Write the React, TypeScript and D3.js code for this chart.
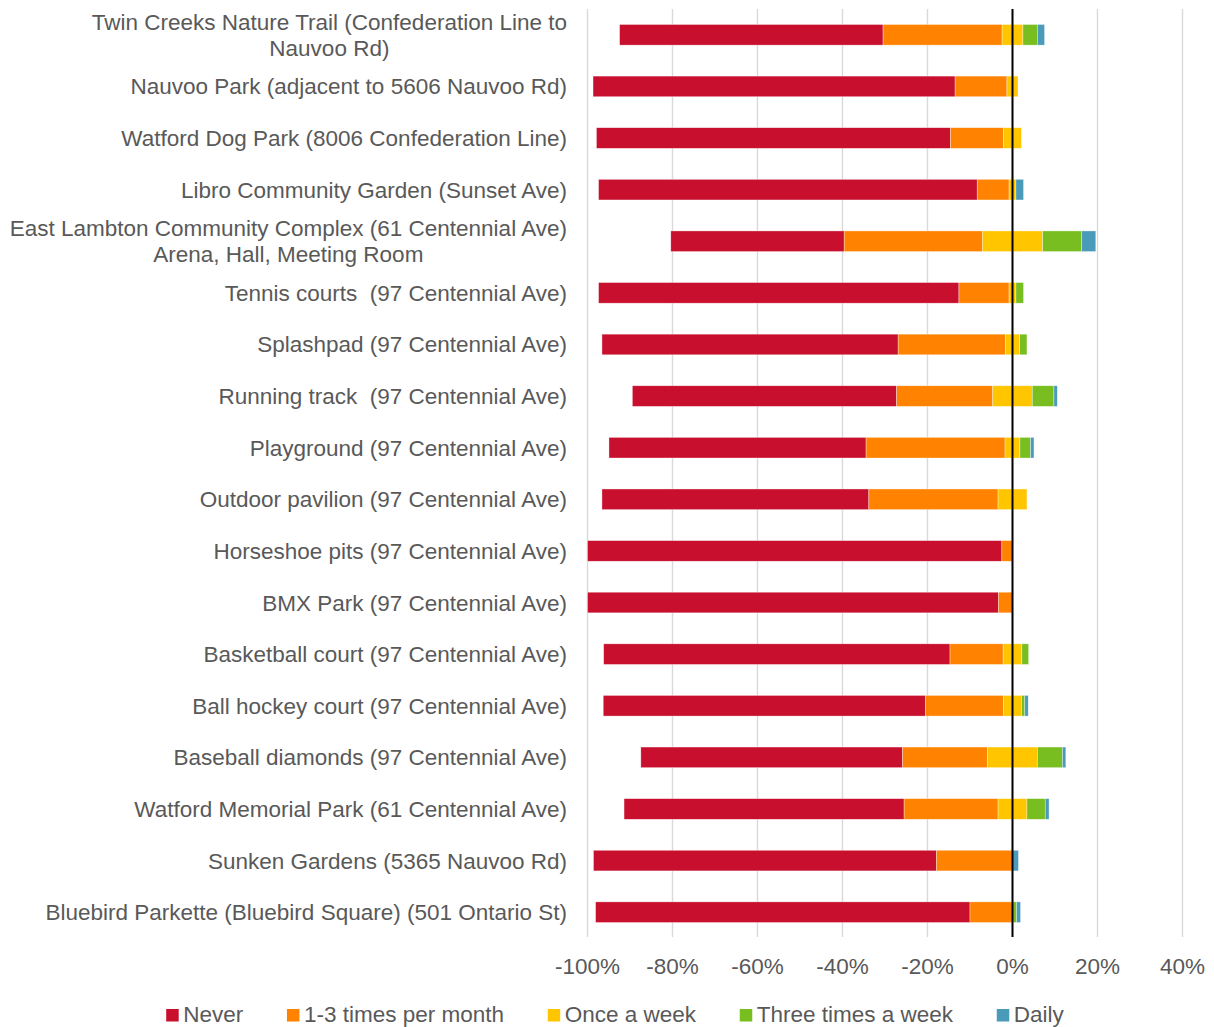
import React, { useRef, useEffect } from "react";
import * as d3 from "d3";

// facilities, top to bottom ("\n" = line break in the axis label)
const categories = [
  "Twin Creeks Nature Trail (Confederation Line to\nNauvoo Rd)",
  "Nauvoo Park (adjacent to 5606 Nauvoo Rd)",
  "Watford Dog Park (8006 Confederation Line)",
  "Libro Community Garden (Sunset Ave)",
  "East Lambton Community Complex (61 Centennial Ave)\nArena, Hall, Meeting Room",
  "Tennis courts  (97 Centennial Ave)",
  "Splashpad (97 Centennial Ave)",
  "Running track  (97 Centennial Ave)",
  "Playground (97 Centennial Ave)",
  "Outdoor pavilion (97 Centennial Ave)",
  "Horseshoe pits (97 Centennial Ave)",
  "BMX Park (97 Centennial Ave)",
  "Basketball court (97 Centennial Ave)",
  "Ball hockey court (97 Centennial Ave)",
  "Baseball diamonds (97 Centennial Ave)",
  "Watford Memorial Park (61 Centennial Ave)",
  "Sunken Gardens (5365 Nauvoo Rd)",
  "Bluebird Parkette (Bluebird Square) (501 Ontario St)",
];

// % of respondents
const never = [62.0, 85.2, 83.3, 89.1, 40.8, 84.8, 69.7, 62.2, 60.5, 62.8, 97.5, 96.7, 81.5, 75.8, 61.6, 65.9, 80.7, 88.1];
const monthly = [28.0, 12.2, 12.5, 7.5, 32.5, 11.8, 25.2, 22.6, 32.7, 30.4, 2.5, 3.3, 12.5, 18.4, 20.0, 22.1, 17.9, 10.0];
const weekly = [4.9, 2.6, 4.2, 1.6, 14.2, 1.6, 3.4, 9.3, 3.5, 6.8, 0, 0, 4.4, 4.2, 11.7, 6.8, 0, 0];
const thrice = [3.4, 0, 0, 0, 9.2, 1.8, 1.7, 5.1, 2.5, 0, 0, 0, 1.6, 0.8, 5.9, 4.3, 0, 0.95];
const daily = [1.7, 0, 0, 1.8, 3.3, 0, 0, 0.8, 0.8, 0, 0, 0, 0, 0.8, 0.8, 0.9, 1.4, 0.95];

const seriesNames = ["Never", "1-3 times per month", "Once a week", "Three times a week", "Daily"];
const seriesColors = ["#C8102E", "#FF8200", "#FFC600", "#78BE20", "#4A9AB9"];
const ticks = [-100, -80, -60, -40, -20, 0, 20, 40];

const W = 1214, H = 1027;
const FONT = "'Liberation Sans', Arial, sans-serif";
const GREY = "#595959";

export default function App() {
  const ref = useRef<SVGSVGElement>(null);

  useEffect(() => {
    if (!ref.current) return;
    const svg = d3.select(ref.current);
    svg.selectAll("*").remove();

    const x = d3.scaleLinear().domain([-100, 40]).range([587.5, 1182.5]);
    const y = d3.scaleBand().domain(categories).range([9, 938]).paddingInner(0.6).paddingOuter(0.3);
    const series = [never, monthly, weekly, thrice, daily];

    // gridlines
    svg.append("g").selectAll("line").data(ticks).enter().append("line")
      .attr("x1", (d) => x(d)).attr("x2", (d) => x(d))
      .attr("y1", 9).attr("y2", 937)
      .attr("stroke", "#D9D9D9").attr("stroke-width", 1.4);

    // diverging stacks, centred on the middle answer
    const rows = categories.map((c, i) => {
      let pos = -(never[i] + monthly[i] + weekly[i] / 2);
      return series.map((s, k) => {
        const seg = { cat: c, k, x0: pos, x1: pos + s[i] };
        pos += s[i];
        return seg;
      });
    }).flat().filter((d) => d.x1 - d.x0 > 0);

    svg.append("g").selectAll("rect").data(rows).enter().append("rect")
      .attr("x", (d) => x(d.x0)).attr("width", (d) => x(d.x1) - x(d.x0))
      .attr("y", (d) => y(d.cat)!).attr("height", y.bandwidth())
      .attr("fill", (d) => seriesColors[d.k])
      .attr("stroke", "#fff").attr("stroke-width", 0.6).attr("stroke-opacity", 0.6);

    // zero line
    svg.append("line").attr("x1", x(0)).attr("x2", x(0)).attr("y1", 9).attr("y2", 937)
      .attr("stroke", "#000").attr("stroke-width", 2);

    // x tick labels
    svg.append("g").selectAll("text").data(ticks).enter().append("text")
      .attr("x", (d) => x(d)).attr("y", 974).attr("text-anchor", "middle")
      .attr("font-family", FONT).attr("font-size", 22.5).attr("fill", GREY)
      .text((d) => `${d}%`);

    // category labels: block right-aligned, lines centred inside block
    const labelRight = 567;
    const lineH = 26;
    categories.forEach((c) => {
      const lines = c.split("\n");
      const cy = y(c)! + y.bandwidth() / 2;
      const t = svg.append("text").attr("font-family", FONT).attr("font-size", 22.5)
        .attr("fill", GREY).attr("text-anchor", "middle").style("white-space", "pre");
      const spans = lines.map((ln, j) =>
        t.append("tspan").attr("y", cy + (j - (lines.length - 1) / 2) * lineH + 8).text(ln));
      const maxW = d3.max(spans, (s) => (s.node() as SVGTSpanElement).getComputedTextLength()) || 0;
      spans.forEach((s) => s.attr("x", labelRight - maxW / 2));
    });

    // legend
    const sq = 12.5, gapTxt = 4.5, gapItem = 43.7;
    const lg = svg.append("g");
    const items = seriesNames.map((n, k) => {
      const g = lg.append("g");
      g.append("rect").attr("width", sq).attr("height", sq).attr("y", 1009).attr("fill", seriesColors[k]);
      const tx = g.append("text").attr("x", sq + gapTxt).attr("y", 1022)
        .attr("font-family", FONT).attr("font-size", 22.5).attr("fill", GREY).text(n);
      const w = sq + gapTxt + (tx.node() as SVGTextElement).getComputedTextLength();
      return { g, w };
    });
    const total = d3.sum(items, (d) => d.w) + gapItem * (items.length - 1);
    let cx = 615 - total / 2;
    items.forEach((it) => {
      it.g.attr("transform", `translate(${cx},0)`);
      cx += it.w + gapItem;
    });
  }, []);

  return (
    <svg ref={ref} width={W} height={H}
      style={{ position: "absolute", left: 0, top: 0, background: "#fff" }} />
  );
}
